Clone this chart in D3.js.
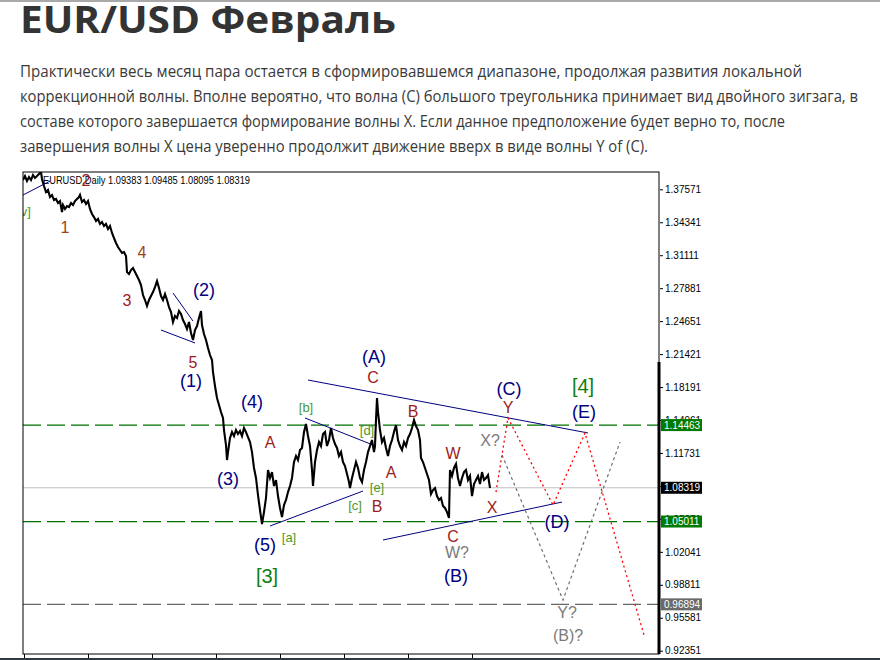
<!DOCTYPE html>
<html><head><meta charset="utf-8">
<script src="https://cdn.jsdelivr.net/npm/d3@7/dist/d3.min.js"></script>
<style>body{margin:0;background:#fff;overflow:hidden}svg{display:block}</style>
</head><body>
<svg id="c" width="880" height="660"></svg>
<script>
// ---------------- DATA ----------------
const titleText = "EUR/USD Февраль";
const paragraphLines = [
  "Практически весь месяц пара остается в сформировавшемся диапазоне, продолжая развития локальной",
  "коррекционной волны. Вполне вероятно, что волна (С) большого треугольника принимает вид двойного зигзага, в",
  "составе которого завершается формирование волны Х. Если данное предположение будет верно то, после",
  "завершения волны Х цена уверенно продолжит движение вверх в виде волны Y of (C)."
];
const chartHeader = "EURUSD,Daily  1.09383 1.09485 1.08095 1.08319";

const barIndex = [0,2,4,6,8,10,12,14,16,18,19,21,23,25,27,29,31,33,35,37,39,40,42,44,46,48,50,52,54,56,57,59,61,63,65,67,69,71,73,75,77,79,81,83,85,87,89,91,93,95,97,99,101,103,104,106,108,110,112,114,116,118,120,122,124,126,128,130,132,134,136,138,140,142,144,146,148,150,152,154,156,158,160,162,164,166,168,170,172,174,176,178,179,181,183,185,187,189,190,192,194,196,198,200,201,203,204,205,207,209,211,213,215,217,219,221,223,225,227,229,231,233,235,237,239,241,243,245,247,249,251,253,255,257,259,261,263,265,267,269,271,273,275,277,279,281,283,285,287,289,290,292,294,296,298,300,302,304,306,308,310,312,314,316,318,320,322,324,326,327,329,331,333,335,337,339,341,343,345,347,349,351,352,353,354,355,357,359,361,363,365,367,369,371,373,375,377,379,381,383,385,387,389,391,393,395,397,398,400,402,404,406,408,410,412,414,416,418,420,422,424,426,427,429,431,433,435,437,439,441,443,445,447,449,451,453,455,457,459,461,463,465,467];
const closePrice = [1.3848,1.3887,1.3838,1.3877,1.3848,1.3897,1.3868,1.3887,1.3907,1.3926,1.3858,1.3789,1.3730,1.3750,1.3681,1.3701,1.3652,1.3662,1.3623,1.3642,1.3534,1.3603,1.3564,1.3593,1.3583,1.3623,1.3603,1.3642,1.3662,1.3681,1.3701,1.3632,1.3652,1.3613,1.3642,1.3564,1.3515,1.3485,1.3446,1.3466,1.3417,1.3436,1.3397,1.3417,1.3368,1.3397,1.3329,1.3280,1.3231,1.3191,1.3162,1.3133,1.3142,1.3103,1.2946,1.2927,1.2966,1.2986,1.2946,1.2907,1.2868,1.2819,1.2721,1.2672,1.2613,1.2672,1.2711,1.2750,1.2799,1.2858,1.2790,1.2711,1.2672,1.2731,1.2672,1.2603,1.2554,1.2456,1.2515,1.2496,1.2564,1.2535,1.2476,1.2437,1.2388,1.2456,1.2349,1.2280,1.2378,1.2417,1.2496,1.2564,1.2427,1.2339,1.2280,1.2202,1.2133,1.2084,1.1966,1.1829,1.1712,1.1643,1.1574,1.1516,1.1398,1.1251,1.1104,1.1182,1.1320,1.1378,1.1339,1.1398,1.1359,1.1388,1.1339,1.1418,1.1378,1.1329,1.1280,1.1182,1.1026,1.0928,1.0761,1.0614,1.0477,1.0594,1.0732,1.1006,1.0928,1.0986,1.0849,1.0908,1.0751,1.0634,1.0545,1.0663,1.0712,1.0790,1.0849,1.0928,1.1084,1.1143,1.1104,1.1202,1.1222,1.1378,1.1457,1.1339,1.1241,1.1006,1.0849,1.1084,1.1202,1.1280,1.1241,1.1359,1.1378,1.1241,1.1300,1.1418,1.1320,1.1261,1.1222,1.1143,1.1182,1.1084,1.1045,1.0967,1.0888,1.0830,1.0928,1.1006,1.1084,1.1026,1.0928,1.0888,1.1006,1.1084,1.1182,1.1241,1.1300,1.1182,1.1241,1.1496,1.1712,1.1574,1.1398,1.1280,1.1320,1.1222,1.1143,1.1241,1.1300,1.1378,1.1447,1.1300,1.1241,1.1202,1.1280,1.1241,1.1320,1.1359,1.1418,1.1496,1.1437,1.1398,1.1300,1.1124,1.1084,1.1026,1.0967,1.0908,1.0771,1.0810,1.0830,1.0751,1.0712,1.0732,1.0653,1.0634,1.0594,1.0536,1.1006,1.0947,1.1026,1.1065,1.0928,1.0849,1.0928,1.0986,1.1006,1.0908,1.0947,1.0751,1.0869,1.0908,1.0947,1.0869,1.0986,1.0908,1.0928,1.0957,1.0830];

const yTickValues = [1.37571,1.34341,1.31111,1.27881,1.24651,1.21421,1.18191,1.14961,1.11731,1.08501,1.05271,1.02041,0.98811,0.95581,0.92351];
const xTickValues = [1,65,129,193,257,321,385,449];

const levelValues = [1.14463, 1.05011, 0.96894];
const levelKinds  = ["green", "green", "gray"];
const lastPrice = 1.08319;

// trend lines: [startIndex, startPrice, endIndex, endPrice]
const trendStartIndex = [0, 150, 138, 247, 282, 285, 360];
const trendStartPrice = [1.3701, 1.2741, 1.2378, 1.0457, 1.1516, 1.1888, 1.0320];
const trendEndIndex   = [27, 170, 172, 340, 350, 565, 539];
const trendEndPrice   = [1.3838, 1.2466, 1.2251, 1.0800, 1.1251, 1.1369, 1.0692];

// forecast paths
const redPathIndex = [473, 485, 530, 562, 621];
const redPathPrice = [1.0790, 1.1516, 1.0663, 1.1369, 0.9389];
const grayPathIndex = [479, 540, 597];
const grayPathPrice = [1.1153, 0.9732, 1.1280];

// wave labels
const labelText  = ["[v]","1","2","3","4","5","(1)","(2)","(3)","(4)","(5)","[3]","[a]","[b]","[c]","[d]","[e]","A","B","C","(A)","A","B","C","W","X","W?","(B)","X?","(C)","Y","(D)","(E)","[4]","Y?","(B)?"];
const labelIndex = [1,42,63,104,119,170,168,181,205,229,242,244,266,283,332,344,354,247,354,350,351,368,390,430,430,469,434,433,467,486,485,534,561,560,544,545];
const labelPrice = [1.3544,1.3378,1.3848,1.2672,1.3142,1.2064,1.1878,1.2770,1.0918,1.1672,1.0271,0.9967,1.0340,1.1623,1.0663,1.1398,1.0839,1.1271,1.0653,1.1908,1.2113,1.0977,1.1584,1.0359,1.1163,1.0643,1.0193,0.9967,1.1300,1.1800,1.1614,1.0496,1.1574,1.1829,0.9605,0.9389];
const labelKind  = ["gs","br","rd","rd","br","rd","nv","nv","nv","nv","nv","gb","gs","gs","gs","gs","gs","rd","rd","rd","nv","rd","rd","rd","rd","rd","gy","nv","gy","nv","rd","nv","nv","gb","gy","gy"];

// ---------------- DRAW ----------------
const svg = d3.select("#c");
const styles = {
  nv:{fill:"#000080", size:18},
  rd:{fill:"#9c1c1c", size:16},
  br:{fill:"#a04412", size:16},
  gb:{fill:"#108010", size:20},
  gs:{fill:"#4c9a2a", size:13},
  gy:{fill:"#7a7a7a", size:16}
};

svg.append("rect").attr("x",0).attr("y",0).attr("width",880).attr("height",2).attr("fill","#a9a9a9");

svg.append("text").attr("x",20).attr("y",33)
  .attr("font-family","'Open Sans', 'DejaVu Sans', sans-serif").attr("font-weight",700)
  .attr("font-size",37).attr("fill","#333")
  .attr("textLength",376).attr("lengthAdjust","spacingAndGlyphs")
  .text(titleText);

const paraWidths = [782, 838, 765, 628];
svg.selectAll("text.para").data(paragraphLines).join("text").attr("class","para")
  .attr("x",20).attr("y",(d,i)=>77+i*25)
  .attr("font-family","'Open Sans', sans-serif").attr("font-size",16).attr("fill","#3a3a3a")
  .attr("textLength",(d,i)=>paraWidths[i]).attr("lengthAdjust","spacingAndGlyphs")
  .text(d=>d);

const L = 23, R = 659, T = 172, B = 654;
const x = d3.scaleLinear().domain([0, 636]).range([L, R]);
const y = d3.scaleLinear().domain([0.92028, 1.39267]).range([B, T]);

svg.append("defs").append("clipPath").attr("id","clip")
  .append("rect").attr("x",L).attr("y",T).attr("width",R-L).attr("height",B-T);
const plot = svg.append("g").attr("clip-path","url(#clip)");

// horizontal levels
plot.selectAll("line.lvl").data(levelValues).join("line")
  .attr("x1",L).attr("x2",R).attr("y1",d=>y(d)).attr("y2",d=>y(d))
  .attr("stroke",(d,i)=>levelKinds[i]==="green"?"#007000":"#666")
  .attr("stroke-width",1.2).attr("stroke-dasharray","18,6");
plot.append("line").attr("x1",L).attr("x2",R).attr("y1",y(lastPrice)).attr("y2",y(lastPrice))
  .attr("stroke","#c0c0c0").attr("stroke-width",1);

// trend lines
plot.selectAll("line.tr").data(trendStartIndex).join("line")
  .attr("x1",(d,i)=>x(trendStartIndex[i])).attr("y1",(d,i)=>y(trendStartPrice[i]))
  .attr("x2",(d,i)=>x(trendEndIndex[i])).attr("y2",(d,i)=>y(trendEndPrice[i]))
  .attr("stroke","#000080").attr("stroke-width",1);

// forecast paths
const fline = d3.line().x(d=>x(d[0])).y(d=>y(d[1]));
plot.append("path").datum(grayPathIndex.map((d,i)=>[d,grayPathPrice[i]]))
  .attr("d",fline).attr("fill","none").attr("stroke","#707070").attr("stroke-width",1.2).attr("stroke-dasharray","3,3");
plot.append("path").datum(redPathIndex.map((d,i)=>[d,redPathPrice[i]]))
  .attr("d",fline).attr("fill","none").attr("stroke","#ff0000").attr("stroke-width",1.3).attr("stroke-dasharray","2,3");

// price
plot.append("path").datum(barIndex.map((d,i)=>[d,closePrice[i]]))
  .attr("d",fline).attr("fill","none").attr("stroke","#000").attr("stroke-width",2.1).attr("stroke-linejoin","miter");

// header text
plot.append("text").attr("x",43).attr("y",184).attr("font-family","'Liberation Sans', Arial, sans-serif")
  .attr("font-size",10.5).attr("fill","#000")
  .attr("textLength",207).attr("lengthAdjust","spacingAndGlyphs").text(chartHeader);

// labels
plot.selectAll("text.lbl").data(labelText).join("text").attr("class","lbl")
  .attr("x",(d,i)=>x(labelIndex[i])).attr("y",(d,i)=>y(labelPrice[i]))
  .attr("text-anchor","middle").attr("dominant-baseline","central")
  .attr("font-family","'Liberation Sans', Arial, sans-serif")
  .attr("font-size",(d,i)=>styles[labelKind[i]].size)
  .attr("fill",(d,i)=>styles[labelKind[i]].fill)
  .text(d=>d);

// frame
svg.append("rect").attr("x",L).attr("y",T).attr("width",R-L).attr("height",B-T)
  .attr("fill","none").attr("stroke","#000").attr("stroke-width",1);
svg.append("line").attr("x1",R).attr("x2",R).attr("y1",y(1.2064))
  .attr("y2",B).attr("stroke","#000").attr("stroke-width",3);

// y axis
const yAxis = d3.axisRight(y).tickValues(yTickValues).tickSize(3).tickPadding(2).tickFormat(d3.format(".5f"));
const ya = svg.append("g").attr("transform",`translate(${R+1},0)`).call(yAxis);
ya.select(".domain").remove();
ya.selectAll("text").attr("font-family","'Liberation Sans', Arial, sans-serif").attr("font-size",10).attr("fill","#000");
ya.selectAll("line").attr("stroke","#000");

// x axis ticks
const xAxis = d3.axisBottom(x).tickValues(xTickValues).tickSize(4).tickFormat("");
const xa = svg.append("g").attr("transform",`translate(0,${B})`).call(xAxis);
xa.select(".domain").remove();
xa.selectAll("line").attr("stroke","#000");

// price boxes
const boxVals = [levelValues[0], lastPrice, levelValues[1], levelValues[2]];
const boxFill = ["#007a00","#000","#007a00","#6a6a6a"];
const bx = svg.append("g");
bx.selectAll("rect").data(boxVals).join("rect")
  .attr("x",R+2).attr("y",d=>y(d)-6).attr("width",41).attr("height",12)
  .attr("fill",(d,i)=>boxFill[i]);
bx.selectAll("text").data(boxVals).join("text")
  .attr("x",R+5).attr("y",d=>y(d)).attr("dominant-baseline","central")
  .attr("font-family","'Liberation Sans', Arial, sans-serif").attr("font-size",10).attr("fill","#fff")
  .text(d=>d3.format(".5f")(d));

svg.append("rect").attr("x",0).attr("y",658).attr("width",880).attr("height",2).attr("fill","#2e3a44");
</script>
</body></html>
